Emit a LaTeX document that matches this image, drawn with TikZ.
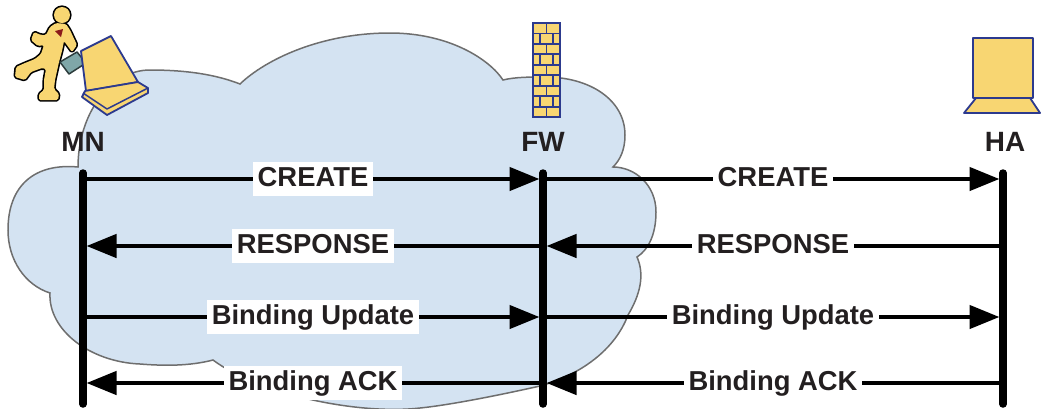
\documentclass[tikz,border=0pt]{standalone}
\usepackage{fontspec}
\setmainfont{Liberation Sans}
\usetikzlibrary{arrows.meta}

\definecolor{cloudfill}{HTML}{D4E3F2}
\definecolor{cloudline}{HTML}{6E6E6E}
\definecolor{pad}{HTML}{F8D672}
\definecolor{navy}{HTML}{2C3A8E}
\definecolor{case}{HTML}{7FA7A8}
\definecolor{caseline}{HTML}{2D3D3D}
\definecolor{tie}{HTML}{8B1A1A}
\definecolor{ink}{HTML}{231F20}

\tikzset{
  lifeline/.style={line width=7.5bp, line cap=round},
  msg/.style={line width=4.5bp, -{Triangle[length=30bp,width=23bp]}, shorten >=3.5bp},
  msglabel/.style={fill=white, text=ink, font=\fontsize{27.5}{30}\selectfont\bfseries,
    inner xsep=5bp, inner ysep=4bp, text height=20bp, text depth=6bp},
  entity/.style={text=ink, font=\fontsize{28}{30}\selectfont\bfseries, inner sep=0pt},
  icon/.style={draw=navy, fill=pad, line width=1.8bp, line join=round},
}

\begin{document}
\begin{tikzpicture}[x=1bp,y=-1bp]
  \useasboundingbox (0,0) rectangle (1041,408);
  %% network cloud, one bump after another
  \filldraw[fill=cloudfill, draw=cloudline, line width=1.5bp]
    (78,167) .. controls (78,114) and (110,70) .. (150,70)
             .. controls (195,70) and (222,77) .. (240,84)
             .. controls (265,60) and (320,33) .. (390,33)
             .. controls (450,33) and (490,60) .. (503,80)
             .. controls (515,77) and (530,77) .. (545,77)
             .. controls (590,77) and (625,100) .. (625,135)
             .. controls (625,150) and (620,160) .. (613,167)
             .. controls (635,167) and (656,185) .. (656,212)
             .. controls (656,235) and (648,250) .. (637,257)
             .. controls (645,275) and (640,295) .. (628,315)
             .. controls (615,350) and (580,375) .. (540,386)
             .. controls (500,395) and (450,405) .. (420,408)
             .. controls (360,415) and (260,395) .. (213,360)
             .. controls (190,366) and (165,366) .. (140,364)
             .. controls (90,362) and (48,330) .. (50,293)
             .. controls (25,285) and (8,260) .. (8,230)
             .. controls (8,185) and (35,163) .. (78,167) -- cycle;
  %% mobile node: runner, briefcase, laptop
  \path[draw=black, line width=3.2bp, line join=round, rounded corners=1.5bp]
    (66,24) -- (70,30) -- (77,45) -- (72,52) -- (64,41) -- (62,51) -- (59,62) -- (55,80)
    -- (54,89) -- (59,94) -- (58,100) -- (39,100) -- (39,94) -- (44,90) -- (44,80) -- (46,69)
    -- (42,68) -- (31,72) -- (25,80) -- (15,77) -- (16,67) -- (25,63) -- (35,59) -- (41,54)
    -- (44,45) -- (38,46) -- (31,40) -- (34,32) -- (41,35) -- (46,35) -- (50,27) -- (56,23) -- cycle
    (62,15) circle (8);
  \fill[pad, rounded corners=1.5bp]
    (66,24) -- (70,30) -- (77,45) -- (72,52) -- (64,41) -- (62,51) -- (59,62) -- (55,80)
    -- (54,89) -- (59,94) -- (58,100) -- (39,100) -- (39,94) -- (44,90) -- (44,80) -- (46,69)
    -- (42,68) -- (31,72) -- (25,80) -- (15,77) -- (16,67) -- (25,63) -- (35,59) -- (41,54)
    -- (44,45) -- (38,46) -- (31,40) -- (34,32) -- (41,35) -- (46,35) -- (50,27) -- (56,23) -- cycle
    (62,15) circle (8);
  \fill[tie] (55,31) -- (63,29) -- (61,37) -- cycle;
  \filldraw[fill=case, draw=caseline, line width=1.5bp, line join=round]
    (60,62) -- (77,52) -- (86,63) -- (69,74) -- cycle;
  \draw[icon] (81,51) -- (111,36) -- (138,82) -- (86,91) -- cycle;
  \draw[icon] (85,91) -- (138,82) -- (148,88) -- (148,93) -- (107,115) -- (82,97) -- cycle;
  \draw[navy, line width=1.5bp, line join=round] (83,93) -- (107,109) -- (148,88);
  %% firewall
  \fill[pad] (533,23) rectangle (560,117);
  \draw[navy, line width=1.8bp]
    (533,33.4) -- (560,33.4) (533,43.9) -- (560,43.9) (533,54.3) -- (560,54.3)
    (533,64.8) -- (560,64.8) (533,75.2) -- (560,75.2) (533,85.7) -- (560,85.7)
    (533,96.1) -- (560,96.1) (533,106.6) -- (560,106.6);
  \draw[navy, line width=1.8bp]
    (546.5,23) -- (546.5,33.4) (546.5,43.9) -- (546.5,54.3) (546.5,64.8) -- (546.5,75.2)
    (546.5,85.7) -- (546.5,96.1) (546.5,106.6) -- (546.5,117)
    (539.8,33.4) -- (539.8,43.9) (553.2,33.4) -- (553.2,43.9)
    (539.8,54.3) -- (539.8,64.8) (553.2,54.3) -- (553.2,64.8)
    (539.8,75.2) -- (539.8,85.7) (553.2,75.2) -- (553.2,85.7)
    (539.8,96.1) -- (539.8,106.6) (553.2,96.1) -- (553.2,106.6);
  \draw[navy, line width=2bp] (533,23) rectangle (560,117);
  %% home agent laptop
  \draw[icon] (973,38) rectangle (1033,98);
  \draw[icon] (976,98) -- (1030,98) -- (1040,113) -- (964,113) -- cycle;
  %% entities
  \node[entity] (MN) at (83,142) {MN};
  \node[entity] (FW) at (543,142) {FW};
  \node[entity] (HA) at (1005,142) {HA};
  \coordinate (MN top) at (83,173);
  \coordinate (FW top) at (543,173);
  \coordinate (HA top) at (1003,173);
  \coordinate (MN end) at (83,404);
  \coordinate (FW end) at (543,404);
  \coordinate (HA end) at (1003,404);
  \draw[lifeline] (MN top) -- (MN end);
  \draw[lifeline] (FW top) -- (FW end);
  \draw[lifeline] (HA top) -- (HA end);
  %% message rows
  \coordinate (mn1) at (83,179);  \coordinate (fw1) at (543,179);  \coordinate (ha1) at (1003,179);
  \coordinate (mn2) at (83,246);  \coordinate (fw2) at (543,246);  \coordinate (ha2) at (1003,246);
  \coordinate (mn3) at (83,317);  \coordinate (fw3) at (543,317);  \coordinate (ha3) at (1003,317);
  \coordinate (mn4) at (83,383);  \coordinate (fw4) at (543,383);  \coordinate (ha4) at (1003,383);
  \draw[msg] (mn1) -- (fw1) node[msglabel, midway] {CREATE};
  \draw[msg] (fw1) -- (ha1) node[msglabel, midway] {CREATE};
  \draw[msg] (fw2) -- (mn2) node[msglabel, midway] {RESPONSE};
  \draw[msg] (ha2) -- (fw2) node[msglabel, midway] {RESPONSE};
  \draw[msg] (mn3) -- (fw3) node[msglabel, midway] {Binding Update};
  \draw[msg] (fw3) -- (ha3) node[msglabel, midway] {Binding Update};
  \draw[msg] (fw4) -- (mn4) node[msglabel, midway] {Binding ACK};
  \draw[msg] (ha4) -- (fw4) node[msglabel, midway] {Binding ACK};
\end{tikzpicture}
\end{document}
